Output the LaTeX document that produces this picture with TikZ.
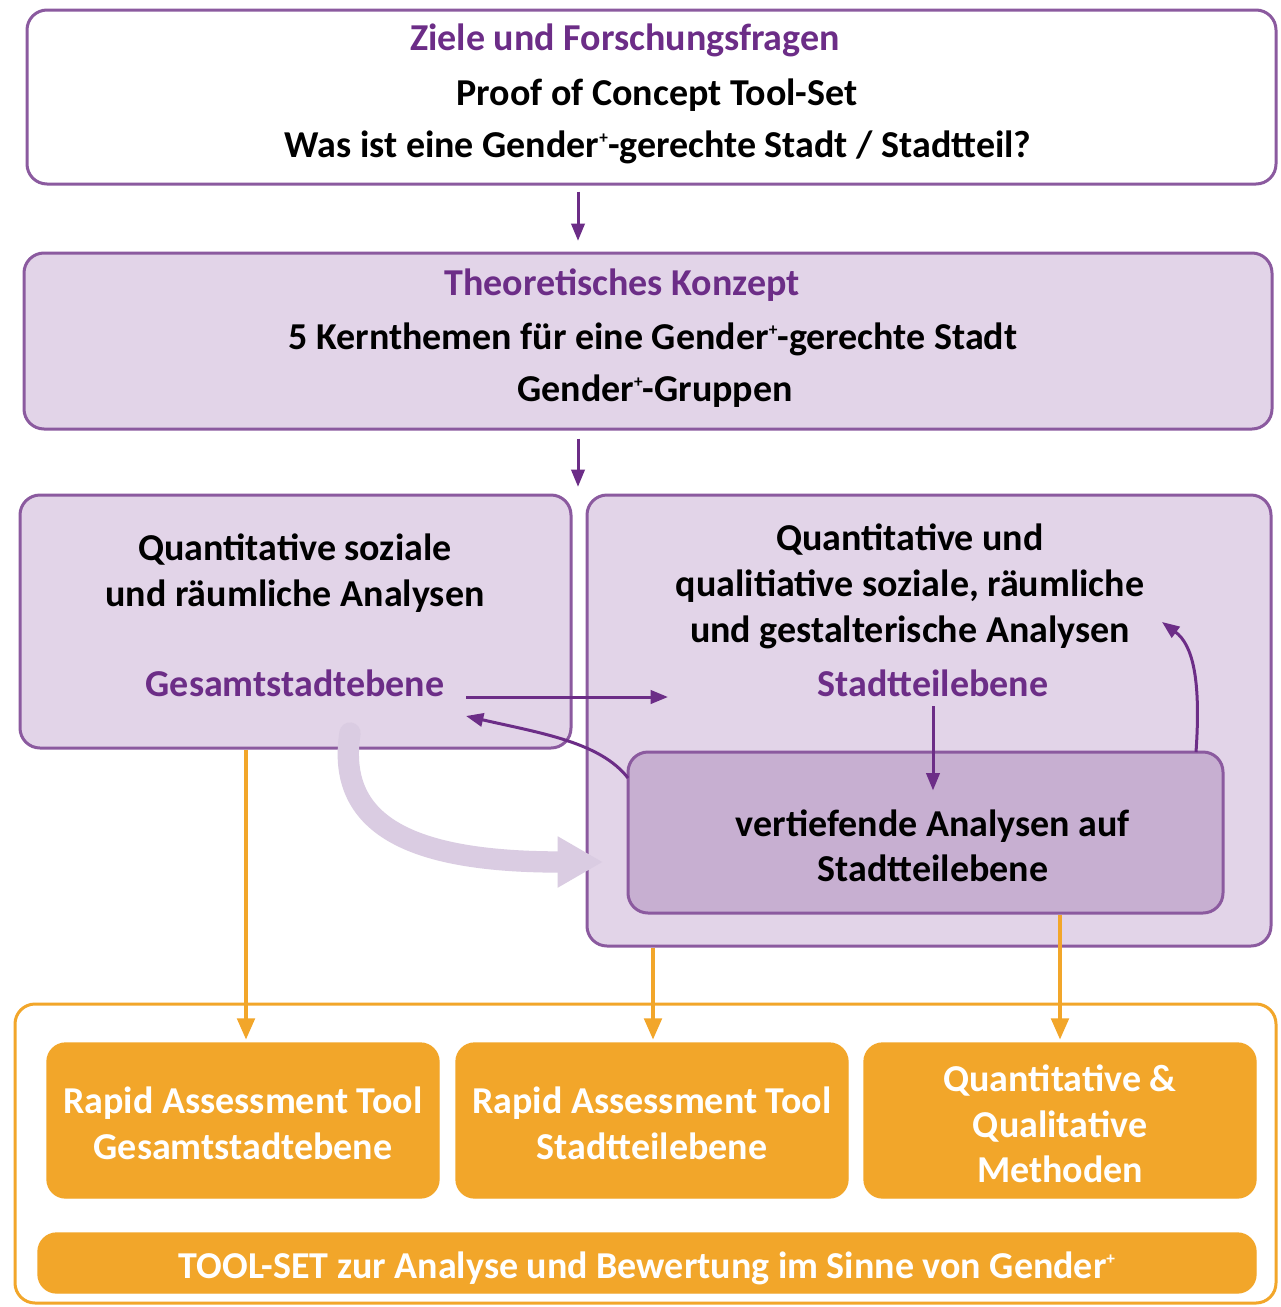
\documentclass[tikz,border=0pt]{standalone}
\usepackage{fontspec}
\setmainfont{Carlito}
\usetikzlibrary{arrows.meta,fit}
\definecolor{ptext}{HTML}{6C2D87}
\definecolor{pline}{HTML}{8B5A9F}
\definecolor{plight}{HTML}{E2D4E8}
\definecolor{pmid}{HTML}{C7AFD1}
\definecolor{orng}{HTML}{F2A62A}
\definecolor{pale}{HTML}{DACCE2}
\newcommand\gplus{\raisebox{0.36em}{\fontsize{13}{13}\selectfont +}}
\begin{document}
\begin{tikzpicture}[x=0.75pt,y=-0.75pt,
  font=\fontsize{28.5}{32}\selectfont\bfseries,
  pbox/.style={draw=pline, line width=2.25pt, rounded corners=15pt, inner sep=0pt},
  obox/.style={draw=orng, fill=orng, line width=1pt, rounded corners=14pt, inner sep=0pt},
  txt/.style={inner sep=0pt, text height=24pt, text depth=6pt, anchor=center},
  ptxt/.style={txt, text=ptext},
  wtxt/.style={txt, text=white},
  parrow/.style={draw=ptext, line width=2.25pt, -{Triangle[length=13pt,width=10pt]}},
  oarrow/.style={draw=orng, line width=3pt, -{Triangle[length=16pt,width=13pt]}},
  bigarrow/.style={draw=pale, line width=16pt, line cap=round, -{Triangle[length=34pt,width=36pt]}}
]
\useasboundingbox (0,0) rectangle (1281,1307);
\fill[white] (0,0) rectangle (1281,1307);

% boxes
\node[pbox, fill=white, fit={(27,10) (1276,184)}] (top) {};
\node[pbox, fill=plight, fit={(24,253) (1272,429)}] (theo) {};
\node[pbox, fill=plight, fit={(20,495) (571,748)}] (left) {};
\node[pbox, fill=plight, fit={(587,495) (1271,946)}] (right) {};
\node[pbox, fill=pmid, fit={(628,752) (1223,913)}] (inner) {};
\node[draw=orng, fill=white, line width=2.25pt, rounded corners=15pt, inner sep=0pt, fit={(15,1004) (1276,1303)}] (bottom) {};
\node[obox, fit={(47,1043) (439,1198)}] (ra) {};
\node[obox, fit={(456,1043) (848,1198)}] (rb) {};
\node[obox, fit={(864,1043) (1256,1198)}] (rc) {};
\node[obox, fit={(38,1233) (1256,1293)}] (bar) {};

% texts
\node[ptxt] (t1) at (625,38) {Ziele und Forschungsfragen};
\node[txt] (t2) at (657,93) {Proof of Concept Tool-Set};
\node[txt] (t3) at (658,145) {Was ist eine Gender\gplus-gerechte Stadt / Stadtteil?};
\node[ptxt] (h1) at (622,283) {Theoretisches Konzept};
\node[txt] (h2) at (653,337) {5 Kernthemen für eine Gender\gplus-gerechte Stadt};
\node[txt] (h3) at (655,389) {Gender\gplus-Gruppen};
\node[txt] (l1) at (295,548) {Quantitative soziale};
\node[txt] (l2) at (295,594) {und räumliche Analysen};
\node[ptxt] (gesamt) at (295,684) {Gesamtstadtebene};
\node[txt] (r1) at (910,538) {Quantitative und};
\node[txt] (r2) at (910,584) {qualitiative soziale, räumliche};
\node[txt] (r3) at (910,630) {und gestalterische Analysen};
\node[ptxt] (stadtteil) at (933,684) {Stadtteilebene};
\node[txt] (i1) at (933,824) {vertiefende Analysen auf};
\node[txt] (i2) at (933,869) {Stadtteilebene};
\node[wtxt] (a1) at (243,1101) {Rapid Assessment Tool};
\node[wtxt] (a2) at (243,1147) {Gesamtstadtebene};
\node[wtxt] (b1) at (652,1101) {Rapid Assessment Tool};
\node[wtxt] (b2) at (652,1147) {Stadtteilebene};
\node[wtxt] (c1) at (1060,1079) {Quantitative \&};
\node[wtxt] (c2) at (1060,1125) {Qualitative};
\node[wtxt] (c3) at (1060,1170) {Methoden};
\node[wtxt] (z1) at (647,1266) {TOOL-SET zur Analyse und Bewertung im Sinne von Gender\gplus};

% coordinates
\coordinate (ax) at (578,0);
\coordinate (ox1) at (246,0);
\coordinate (ox2) at (653,0);
\coordinate (ox3) at (1060,0);
\coordinate (gs) at (466,697);
\coordinate (ge) at (668,697);
\coordinate (bs) at (350,733);
\coordinate (be) at (603,862);
\coordinate (cs) at (628,778);
\coordinate (ce) at (466,716);
\coordinate (ds) at (1196,752);
\coordinate (de) at (1162,622);

% light arrow
\draw[bigarrow] (bs) .. controls (335,830) and (420,862) .. (be);

% purple arrows
\draw[parrow, shorten <=4.5pt, shorten >=8pt] (top.south -| ax) -- (theo.north -| ax);
\draw[parrow, shorten <=6pt, shorten >=5pt] (theo.south -| ax) -- (left.north -| ax);
\draw[parrow] (gs) -- (ge);
\draw[parrow] (cs) .. controls (600,742) and (540,733) .. (ce);
\draw[parrow, shorten <=1.5pt, shorten >=10pt] (stadtteil.south) -- (i1.north);
\draw[parrow] (ds) .. controls (1201,680) and (1193,645) .. (de);

% orange arrows
\draw[oarrow, shorten >=2pt] (left.south -| ox1) -- (ra.north -| ox1);
\draw[oarrow, shorten >=2pt] (right.south -| ox2) -- (rb.north -| ox2);
\draw[oarrow, shorten >=2pt] (inner.south -| ox3) -- (rc.north -| ox3);
\end{tikzpicture}
\end{document}
